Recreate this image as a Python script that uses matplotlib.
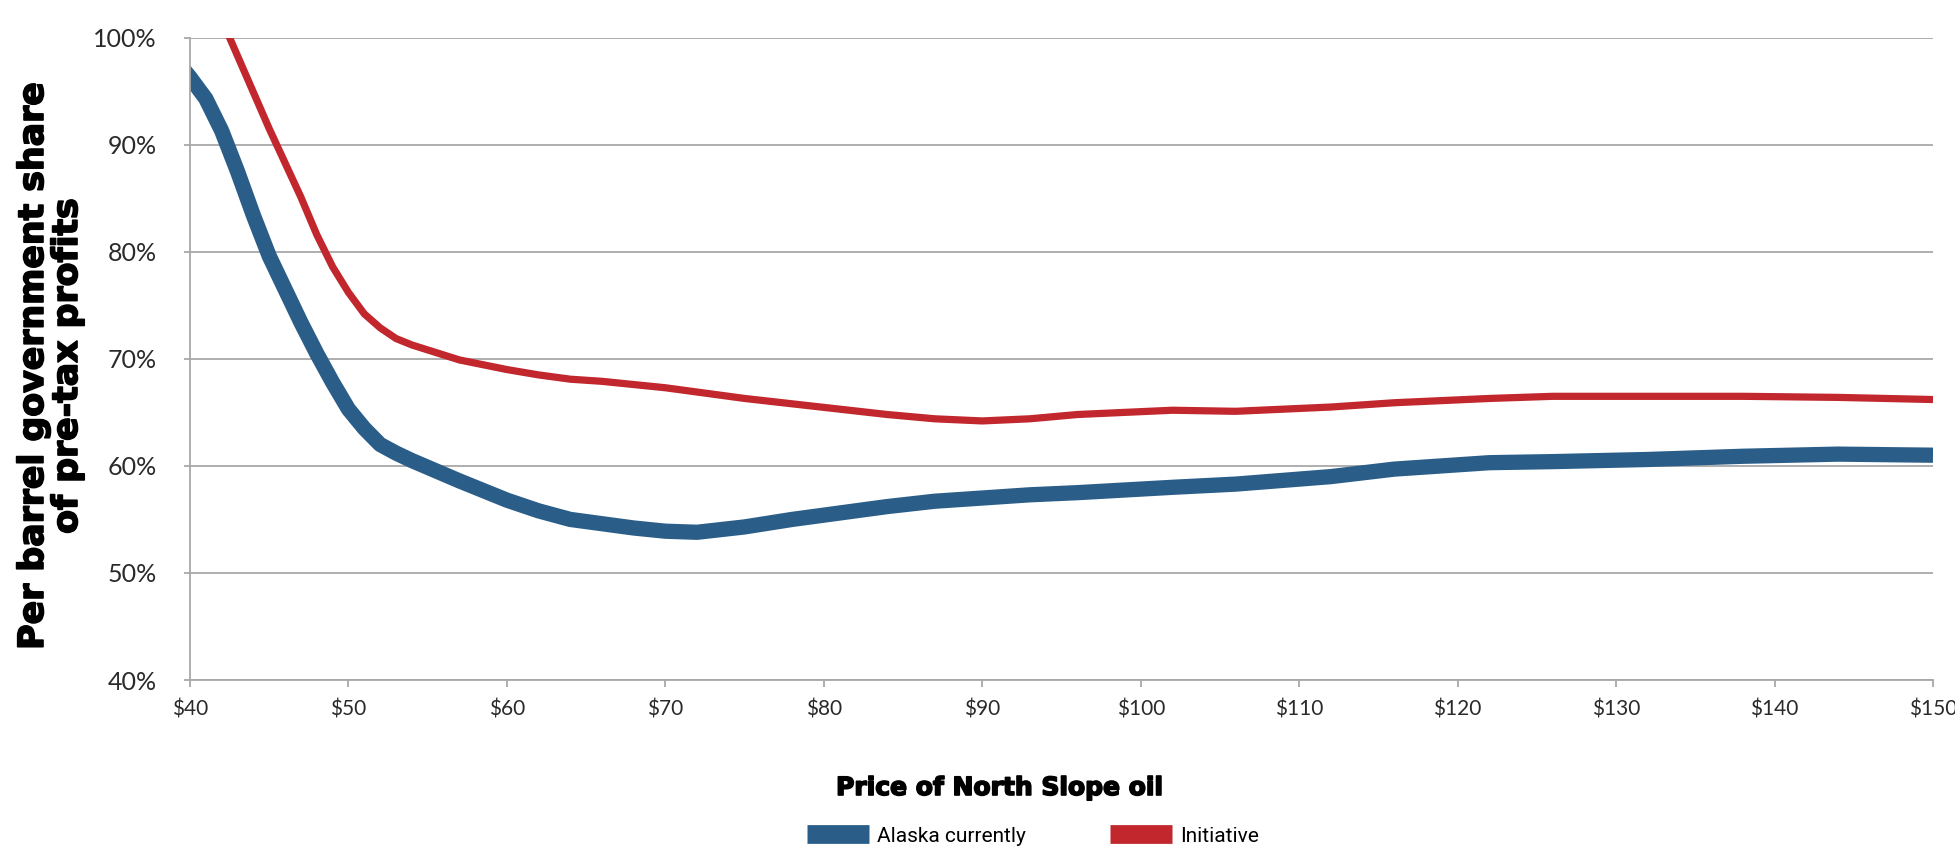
import matplotlib
matplotlib.use("Agg")
import matplotlib.pyplot as plt
import matplotlib.patheffects as pe
from matplotlib.lines import Line2D
from matplotlib.ticker import FuncFormatter

# North Slope oil price ($/bbl) and government share of pre-tax profits (%)
# (the first point sits just left of the axis so the thick line is cut flat)
price = [39, 40, 41, 42, 43, 44, 45, 46, 47, 48, 49, 50, 51, 52, 53, 54, 57,
         60, 62, 64, 66, 68, 70, 72, 75, 78, 81, 84, 87, 90, 93, 96, 102,
         106, 112, 116, 122, 126, 132, 138, 144, 150]
alaska_current = [98.1, 96.3, 94.3, 91.3, 87.5, 83.4, 79.6, 76.5, 73.4, 70.5,
                  67.8, 65.3, 63.5, 62.0, 61.2, 60.5, 58.6,
                  56.8, 55.8, 55.0, 54.6, 54.2, 53.9, 53.8, 54.3, 55.0, 55.6,
                  56.2, 56.7, 57.0, 57.3, 57.5, 58.0,
                  58.3, 59.0, 59.7, 60.3, 60.4, 60.6, 60.9, 61.1, 61.0]
initiative = [111.8, 108.5, 105.2, 101.7, 98.3, 94.9, 91.5, 88.3, 85.1, 81.6,
              78.6, 76.2, 74.2, 72.9, 71.9, 71.3, 69.9,
              69.0, 68.5, 68.1, 67.9, 67.6, 67.3, 66.9, 66.3, 65.8, 65.3,
              64.8, 64.4, 64.2, 64.4, 64.8, 65.2,
              65.1, 65.5, 65.9, 66.3, 66.5, 66.5, 66.5, 66.4, 66.2]

x_ticks = list(range(40, 151, 10))
y_ticks = list(range(40, 101, 10))

BLUE = "#2a5e89"
RED = "#c1272d"
GRID = "#a8a8a8"
TICK_FONT = ["Lato", "DejaVu Sans"]
HEAVY_FONT = ["DejaVu Sans"]
NARROW_FONT = ["Liberation Sans Narrow", "Roboto", "DejaVu Sans"]
heavy = [pe.withStroke(linewidth=1.2, foreground="black")]

fig = plt.figure(figsize=(19.56, 8.47), dpi=100)
ax = fig.add_axes([190 / 1956, 1 - 680 / 847, (1933 - 190) / 1956, (680 - 37.7) / 847])

ax.plot(price, alaska_current, color=BLUE, lw=11, solid_capstyle="butt",
        solid_joinstyle="round", zorder=3)
ax.plot(price, initiative, color=RED, lw=5.2, solid_capstyle="butt",
        solid_joinstyle="round", zorder=4)

ax.set_xlim(40, 150)
ax.set_ylim(40, 100)
ax.set_xticks(x_ticks)
ax.set_yticks(y_ticks)
ax.xaxis.set_major_formatter(FuncFormatter(lambda v, _: f"${v:.0f}"))
ax.yaxis.set_major_formatter(FuncFormatter(lambda v, _: f"{v:.0f}%"))

ax.grid(axis="y", color=GRID, lw=1.3)
ax.set_axisbelow(True)
for side in ("top", "right"):
    ax.spines[side].set_visible(False)
for side in ("left", "bottom"):
    ax.spines[side].set_color(GRID)
    ax.spines[side].set_linewidth(1.3)
    ax.spines[side].set_zorder(5)

ax.tick_params(axis="x", direction="out", length=5, width=1.3, color=GRID,
               pad=9, labelsize=15, labelcolor="#2a2a2a")
ax.tick_params(axis="y", direction="out", length=4, width=1.3, color=GRID,
               pad=20, labelsize=18, labelcolor="#2a2a2a")
for lab in ax.get_xticklabels() + ax.get_yticklabels():
    lab.set_family(TICK_FONT)

fig.text(50 / 1956, 1 - 366 / 847,
         "Per barrel government share\nof pre-tax profits",
         rotation=90, ha="center", va="center", ma="center",
         fontsize=25, fontweight="bold", family=HEAVY_FONT, linespacing=1.0,
         path_effects=heavy)

fig.text(1000 / 1956, 1 - 788 / 847, "Price of North Slope oil",
         ha="center", va="center", fontsize=18, fontweight="bold",
         family=HEAVY_FONT, path_effects=heavy)

handles = [Line2D([], [], color=BLUE, lw=13.5, solid_capstyle="butt"),
           Line2D([], [], color=RED, lw=13.5, solid_capstyle="butt")]
fig.legend(handles, ["Alaska currently", "Initiative"], ncol=2, frameon=False,
           loc="center", bbox_to_anchor=(1033 / 1956, 1 - 836 / 847),
           prop={"family": NARROW_FONT, "size": 15},
           handlelength=3.0, handletextpad=0.4, columnspacing=4.0,
           borderpad=0.0)

fig.savefig("out.png", dpi=100)
